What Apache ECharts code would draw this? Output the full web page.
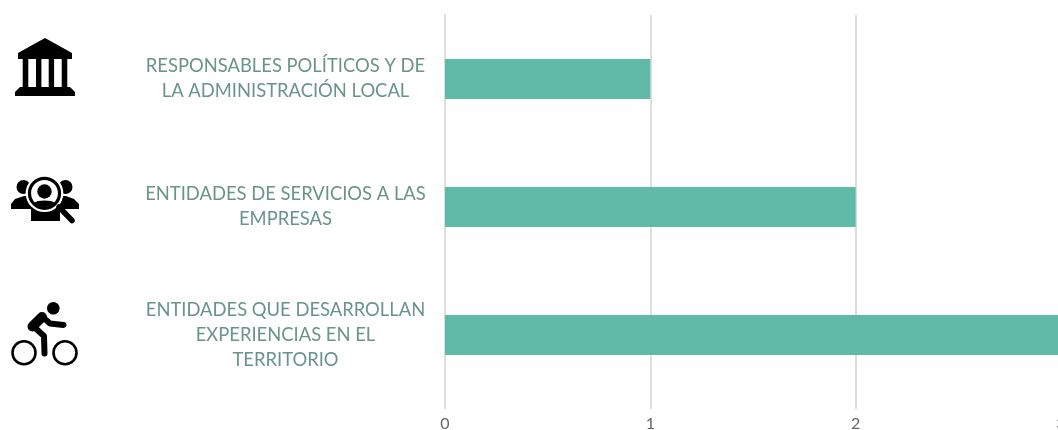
<!DOCTYPE html>
<html>
<head>
<meta charset="utf-8">
<style>
  html, body { margin: 0; padding: 0; background: #fff; }
  #chart { width: 1058px; height: 430px; }
</style>
<script src="https://cdn.jsdelivr.net/npm/echarts@6/dist/echarts.min.js"></script>
</head>
<body>
<div id="chart"></div>
<script>
// de arriba a abajo, por eso inverse en el eje y
const categories = [
    'RESPONSABLES POLÍTICOS Y DE\nLA ADMINISTRACIÓN LOCAL',
    'ENTIDADES DE SERVICIOS A LAS\nEMPRESAS',
    'ENTIDADES QUE DESARROLLAN\nEXPERIENCIAS EN EL\nTERRITORIO'
];
const values = [1, 2, 3];
const tickMax = 3;

const black = { fill: '#000' };
const line = (points, lineWidth) => ({
    type: 'polyline',
    shape: { points },
    style: { stroke: '#000', fill: null, lineWidth, lineCap: 'round', lineJoin: 'round' }
});
const circle = (cx, cy, r, style) => ({ type: 'circle', shape: { cx, cy, r }, style });
const rect = (x, y, width, height) => ({ type: 'rect', shape: { x, y, width, height }, style: black });

// iconos de la izquierda
const bankIcon = [
    { type: 'polygon', shape: { points: [[45, 38], [72, 53], [72, 59], [18, 59], [18, 53]] }, style: black },
    rect(22.7, 59, 5.6, 28), rect(36, 59, 5.4, 28), rect(48.7, 59, 5.4, 28), rect(61.7, 59, 5.6, 28),
    { type: 'polygon', shape: { points: [[20, 87], [70, 87], [75, 92], [75, 96], [15, 96], [15, 92]] }, style: black }
];

const searchIcon = [
    circle(23.5, 187, 7, black),
    circle(65.5, 187, 7, black),
    { type: 'polygon', shape: { points: [[11, 209], [11, 204], [15, 199], [24, 196], [66, 196], [74, 199], [79, 204], [79, 209]] }, style: black },
    rect(31, 208, 29, 13),
    circle(44.5, 193.3, 18.8, { fill: '#fff' }),
    { type: 'line', shape: { x1: 59, y1: 207, x2: 72, y2: 220.5 }, style: { stroke: '#000', lineWidth: 5.5, lineCap: 'round' } },
    circle(44.5, 193.3, 15, { fill: '#fff', stroke: '#000', lineWidth: 3.2 }),
    circle(44.5, 191.5, 7.2, black),
    {
        type: 'polygon',
        shape: { points: [[33.5, 203], [38, 201], [44.5, 200.5], [51, 201], [55.5, 203], [52, 205.5], [48, 206.8], [44.5, 207], [41, 206.8], [37, 205.5]] },
        style: black
    }
];

const bikeIcon = [
    circle(24, 352.7, 11.5, { fill: 'none', stroke: '#000', lineWidth: 2.6 }),
    circle(65, 352.7, 11.5, { fill: 'none', stroke: '#000', lineWidth: 2.6 }),
    circle(53.3, 308.3, 6.3, black),
    line([[42, 317], [32.5, 326.5]], 10),
    line([[41.5, 316], [50, 323.5], [63.5, 325]], 6),
    line([[33, 326], [44, 336], [44.5, 353.5]], 6)
];

const chart = echarts.init(document.getElementById('chart'));

chart.setOption({
    backgroundColor: '#fff',
    animation: false,
    grid: { left: 445, top: 15, width: 616, height: 384, outerBoundsMode: 'none' },
    xAxis: {
        type: 'value',
        min: 0,
        max: tickMax,
        interval: 1,
        axisLine: { show: false },
        axisTick: { show: true, length: 10, lineStyle: { color: '#dedede', width: 2 } },
        splitLine: { show: true, lineStyle: { color: '#dedede', width: 2 } },
        axisLabel: {
            fontFamily: 'Lato',
            fontSize: 16,
            color: '#666',
            margin: 17,
            hideOverlap: false,
            showMaxLabel: true
        }
    },
    yAxis: {
        type: 'category',
        inverse: true,
        data: categories,
        axisLine: { show: true, lineStyle: { color: '#dedede', width: 2 } },
        axisTick: { show: false },
        axisLabel: {
            fontFamily: 'Lato',
            fontSize: 18.4,
            color: '#6a948a',
            lineHeight: 25,
            align: 'center',
            margin: 159.5,
            padding: [0, 0, 4, 0]
        }
    },
    series: [
        {
            type: 'bar',
            data: values,
            barWidth: 40,
            itemStyle: { color: '#5fbba8' }
        }
    ],
    graphic: [...bankIcon, ...searchIcon, ...bikeIcon]
});

window.addEventListener('resize', () => chart.resize());
</script>
</body>
</html>
